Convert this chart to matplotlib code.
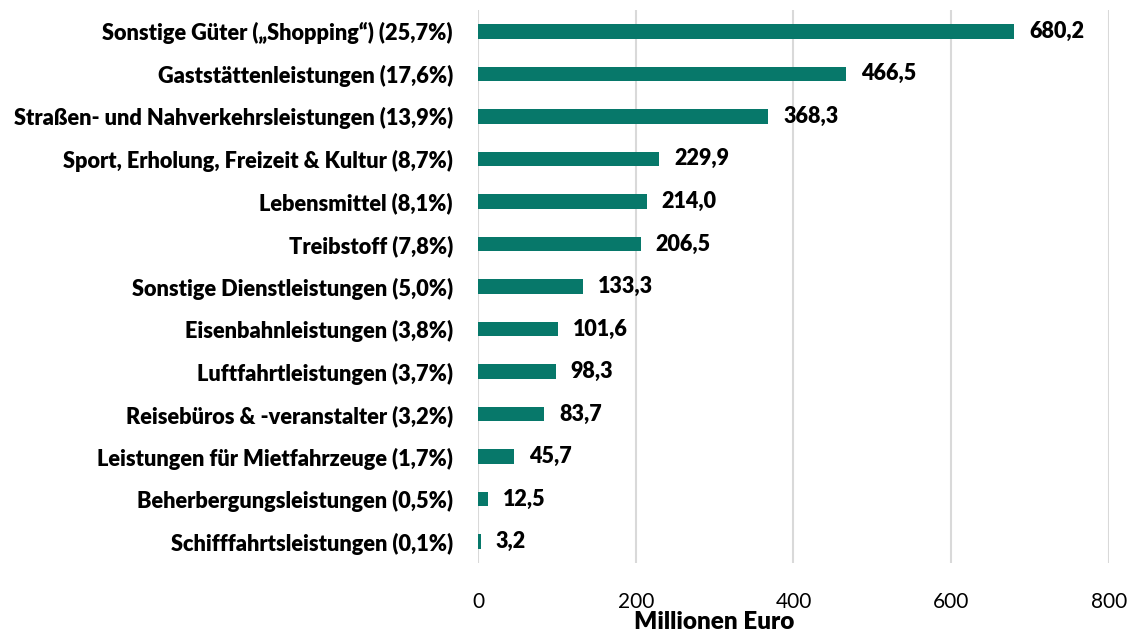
import matplotlib.pyplot as plt

kategorien = [
    'Sonstige Güter („Shopping“) (25,7%)',
    'Gaststättenleistungen (17,6%)',
    'Straßen- und Nahverkehrsleistungen (13,9%)',
    'Sport, Erholung, Freizeit & Kultur (8,7%)',
    'Lebensmittel (8,1%)',
    'Treibstoff (7,8%)',
    'Sonstige Dienstleistungen (5,0%)',
    'Eisenbahnleistungen (3,8%)',
    'Luftfahrtleistungen (3,7%)',
    'Reisebüros & -veranstalter (3,2%)',
    'Leistungen für Mietfahrzeuge (1,7%)',
    'Beherbergungsleistungen (0,5%)',
    'Schifffahrtsleistungen (0,1%)',
]
werte = [680.2, 466.5, 368.3, 229.9, 214.0, 206.5, 133.3, 101.6, 98.3, 83.7, 45.7, 12.5, 3.2]
x_ticks = [0, 200, 400, 600, 800]

plt.rcParams['font.family'] = ['Lato', 'DejaVu Sans']

fig = plt.figure(figsize=(11.3, 6.34), dpi=100)
ax = fig.add_axes([0.423, 0.112, 0.5584, 0.8722])

pos = list(range(len(werte)))
ax.barh(pos, werte, height=0.34, color='#07786A', zorder=3)
for p, w in zip(pos, werte):
    ax.text(w + 19, p, f'{w:.1f}'.replace('.', ','), va='center', ha='left',
            fontsize=15.5, fontweight='heavy', color='black')

ax.set_ylim(len(werte) - 0.5, -0.5)
ax.set_yticks(pos)
ax.set_yticklabels(kategorien, fontsize=15.7, fontweight='heavy')
ax.set_xlim(0, 800)
ax.set_xticks(x_ticks)
ax.set_xticklabels([str(t) for t in x_ticks], fontsize=15)
ax.tick_params(axis='both', length=0)
ax.tick_params(axis='x', pad=21)
ax.tick_params(axis='y', pad=18)
ax.grid(axis='x', color='#d9d9d9', linewidth=1.5, zorder=0)
for s in ax.spines.values():
    s.set_visible(False)

ax.set_xlabel('Millionen Euro', fontsize=17.5, fontweight='heavy')
ax.xaxis.set_label_coords(0.374, -0.087)

fig.savefig('out.png', dpi=100)
